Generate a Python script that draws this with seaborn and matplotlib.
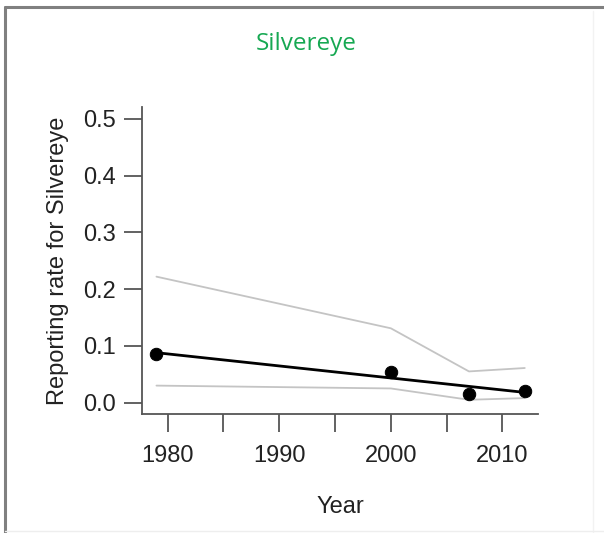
import pandas as pd
import matplotlib.pyplot as plt
from matplotlib.lines import Line2D
import seaborn as sns

# survey observations
years = [1979, 2000, 2007, 2012]
rates = [0.086, 0.054, 0.015, 0.020]
# upper / lower interval
upper = [0.222, 0.131, 0.055, 0.061]
lower = [0.030, 0.025, 0.005, 0.008]
# fitted trend
fit_years = [1979, 2012]
fit_rates = [0.088, 0.018]

y_ticks = [0.0, 0.1, 0.2, 0.3, 0.4, 0.5]
x_ticks = [1980, 1985, 1990, 1995, 2000, 2005, 2010]
x_labels = ['1980', '', '1990', '', '2000', '', '2010']

obs = pd.DataFrame({'Year': years, 'rate': rates, 'upper': upper, 'lower': lower})
fit = pd.DataFrame({'Year': fit_years, 'rate': fit_rates})

sns.set_style('ticks')
plt.rcParams['font.family'] = ['Liberation Sans', 'DejaVu Sans']

fig = plt.figure(figsize=(6.04, 5.33), dpi=100)
ax = fig.add_axes([0.235, 0.2233, 0.656, 0.576])

sns.lineplot(data=obs, x='Year', y='upper', ax=ax, color='#c4c4c4', lw=1.3)
sns.lineplot(data=obs, x='Year', y='lower', ax=ax, color='#c4c4c4', lw=1.3)
sns.lineplot(data=fit, x='Year', y='rate', ax=ax, color='black', lw=2)
sns.scatterplot(data=obs, x='Year', y='rate', ax=ax, color='black', s=80,
                edgecolor='black', zorder=5)

ax.set_xlim(1977.7, 2013.2)
ax.set_ylim(-0.02, 0.521)
ax.set_yticks(y_ticks)
ax.set_yticklabels([f'{v:.1f}' for v in y_ticks])
ax.set_xticks(x_ticks)
ax.set_xticklabels(x_labels)
ax.tick_params(length=13, width=1.3, color='#555555', labelsize=17, labelcolor='#222222', pad=6)
ax.tick_params(axis='x', pad=9)
for s in ['left', 'bottom']:
    ax.spines[s].set_color('#555555')
    ax.spines[s].set_linewidth(1.3)
sns.despine(ax=ax)

ax.set_xlabel('Year', fontsize=17, color='#222222', labelpad=21)
ax.set_ylabel('Reporting rate for Silvereye', fontsize=17, color='#222222', labelpad=10)

fig.text(0.507, 0.917, 'Silvereye', ha='center', va='center', fontsize=17.5,
         color='#16a852', family=['Open Sans', 'DejaVu Sans'])

# page frame
fig.add_artist(Line2D([0.009, 0.009], [0, 0.986], transform=fig.transFigure, color='#808080', lw=2.2))
fig.add_artist(Line2D([0.009, 1], [0.986, 0.986], transform=fig.transFigure, color='#808080', lw=2.2))
fig.add_artist(Line2D([0.982, 0.982], [0, 0.98], transform=fig.transFigure, color='#f2f2f2', lw=1))
fig.add_artist(Line2D([0.009, 1], [0.003, 0.003], transform=fig.transFigure, color='#eeeeee', lw=1))

plt.savefig('out.png', dpi=100)
plt.close()
